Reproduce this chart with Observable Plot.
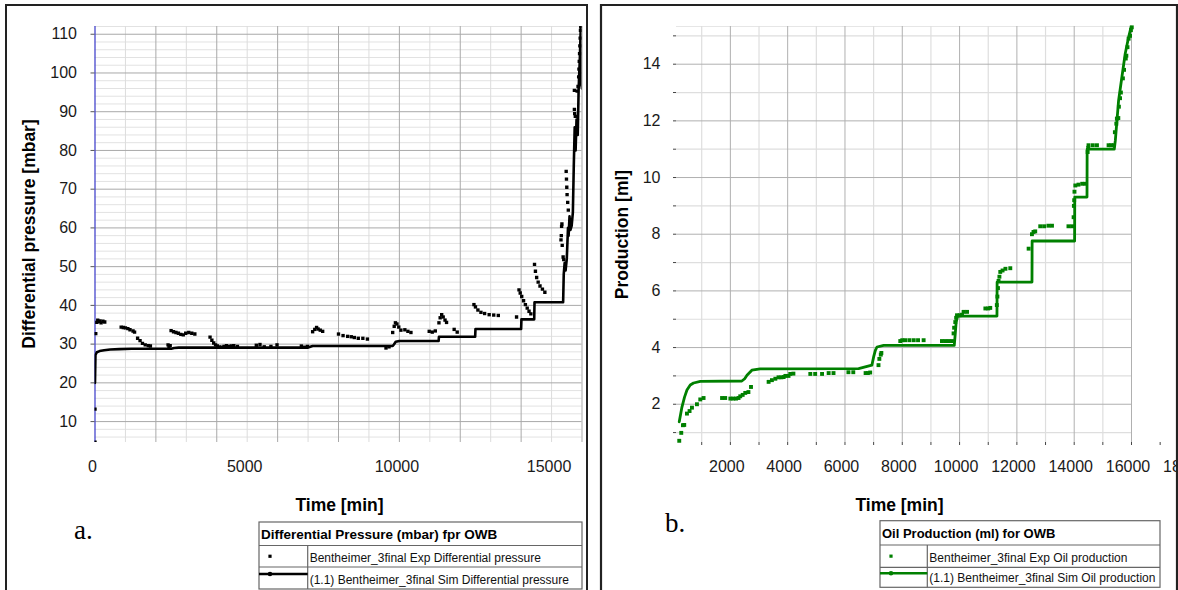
<!DOCTYPE html>
<html><head><meta charset="utf-8">
<script src="https://cdn.jsdelivr.net/npm/d3@7"></script>
<script src="https://cdn.jsdelivr.net/npm/@observablehq/plot@0.6"></script>
<style>
body{margin:0;background:#fff;}
#wrap{position:relative;width:1178px;height:590px;overflow:hidden;background:#fff;font-family:"Liberation Sans",Arial,sans-serif;}
#left,#right{position:absolute;top:0;}
#left{left:0px;width:587px;}
#right{left:601px;width:600px;}
#left svg,#right svg{max-width:none !important;}
#overlay{position:absolute;left:0;top:0;}
</style></head><body>
<div id="wrap"><div id="left"></div><div id="right"></div><svg id="overlay" width="1178" height="590"></svg></div>
<script>
// ---------- DATA ----------
// Panel a: differential pressure (mbar) vs time (min)
const pressureExp = [
  [0,4.7],[0,13.2],[25,32.7],[60,35.6],[90,36.2],[120,35.8],[160,36.0],[200,35.5],[260,35.9],[320,35.7],
  [860,34.4],[930,34.3],[1000,34.2],[1080,34.0],[1150,33.7],[1250,33.4],[1300,33.1],
  [1400,31.5],[1480,30.9],[1560,30.2],[1650,29.8],[1750,29.6],[1820,29.5],
  [2400,29.8],[2430,29.3],[2470,29.6],
  [2500,33.5],[2580,33.2],[2660,33.0],[2740,32.8],[2820,32.5],[2900,32.4],[2980,32.8],[3080,33.0],[3180,32.8],[3280,32.6],
  [3780,31.8],[3840,31.0],[3900,30.3],[3960,29.8],[4020,29.5],
  [4080,29.3],[4160,29.2],[4240,29.4],[4320,29.6],[4400,29.4],[4480,29.5],[4560,29.6],[4680,29.4],
  [5300,29.7],[5420,29.9],[5560,29.3],[5780,29.4],[5980,29.8],
  [6780,29.5],[6880,29.2],[6980,29.4],
  [7150,33.2],[7220,33.8],[7280,34.3],[7330,33.9],[7400,33.6],[7480,33.3],
  [8000,32.6],[8150,32.2],[8300,32.0],[8420,31.9],[8520,31.7],[8650,31.5],[8800,31.5],[8950,31.3],
  [9560,29.0],[9660,29.3],
  [9780,33.0],[9830,34.6],[9870,35.5],[9920,35.2],[9980,34.4],[10050,33.6],
  [10180,33.7],[10280,33.3],[10380,33.0],
  [10980,33.3],[11080,33.1],[11180,33.4],
  [11300,35.5],[11340,36.8],[11390,37.6],[11440,37.0],[11500,36.2],[11550,35.6],
  [11800,33.8],[11900,33.1],
  [12450,40.2],[12500,39.6],[12580,38.8],[12680,38.2],[12800,37.9],[12950,37.6],[13100,37.5],[13250,37.4],
  [13850,37.0],[13930,44.0],[13970,43.2],[14020,42.3],[14080,41.2],[14140,40.2],[14200,39.3],[14260,38.5],[14320,37.8],
  [14440,50.6],[14470,48.8],[14510,47.2],[14560,46.0],[14620,45.0],[14700,44.2],[14780,43.4],
  [15310,56.9],[15320,58.0],[15330,60.4],[15340,61.0],[15350,55.5],[15380,52.5],[15400,51.8],
  [15480,74.6],[15490,72.6],[15500,70.5],[15510,68.6],[15530,66.6],[15550,64.6],
  [15750,90.6],[15760,89.5],[15780,88.8],[15750,95.5],[15840,95.3],
  [15870,96.5],[15890,99],[15900,101],[15910,103],[15920,105],[15930,107],[15940,109],[15950,111],[15960,112]
];
const pressureSim = [
  [0,20],[15,27.2],[60,27.9],[150,28.2],[300,28.4],[500,28.6],[800,28.7],[1200,28.8],[2500,28.8],[2600,29.0],[2750,29.1],
  [7000,29.1],[7150,29.5],[9780,29.5],[9820,29.9],[9880,30.6],[10000,30.8],[11290,30.8],[11300,31.9],[12490,31.9],
  [12500,33.9],[14000,33.9],[14010,36.4],[14430,36.4],[14440,40.8],[15380,40.8],[15400,48],[15430,51],[15460,49],
  [15500,52],[15540,60],[15560,58],[15590,63],[15620,59.5],[15660,60.5],[15700,64],[15730,76],[15760,86],[15790,80],
  [15820,88],[15860,84],[15890,96],[15930,104],[15960,112],[15975,97],[16000,96]
];
// Panel b: oil production (ml) vs time (min)
const oilExp = [
  [216,0.71],[286,0.99],[345,1.26],[390,1.27],[485,1.67],[576,1.76],[660,1.88],[834,2.0],[950,2.17],[1065,2.22],
  [1710,2.22],[1820,2.22],[2000,2.2],[2100,2.2],[2200,2.2],[2285,2.22],[2345,2.28],[2430,2.33],[2520,2.4],[2630,2.43],[2720,2.61],
  [3335,2.79],[3450,2.85],[3570,2.9],[3680,2.95],[3780,2.95],[3860,2.96],[3920,3.0],[4030,3.0],[4090,3.07],[4200,3.08],
  [4790,3.07],[4960,3.07],[5200,3.07],[5430,3.1],[5600,3.1],[6120,3.13],[6290,3.13],[6720,3.1],[6800,3.1],[6880,3.12],
  [7170,3.38],[7200,3.6],[7250,3.75],[7270,3.81],
  [7930,4.23],[8000,4.26],[8105,4.26],[8250,4.26],[8400,4.26],[8550,4.26],[8745,4.26],[9385,4.23],[9500,4.23],[9620,4.23],[9735,4.23],
  [9790,4.5],[9810,4.7],[9850,4.9],[9880,5.05],[9910,5.14],[10000,5.14],[10085,5.16],[10140,5.26],[10260,5.26],
  [10900,5.38],[11000,5.38],[11070,5.4],[11300,5.5],[11320,5.8],[11340,6.1],[11360,6.35],[11390,6.5],[11420,6.67],[11500,6.72],[11600,6.78],[11770,6.8],
  [12410,7.49],[12525,8.0],[12580,8.08],[12640,8.1],[12815,8.28],[12950,8.28],[13100,8.3],[13225,8.3],[13800,8.28],[13925,8.28],
  [13980,8.6],[13990,9.0],[14000,9.2],[14010,9.5],[14040,9.72],[14150,9.75],[14280,9.78],[14390,9.78],
  [14470,10.9],[14490,11.05],[14500,11.14],[14650,11.14],[14795,11.14],[15200,11.14],[15290,11.14],[15375,11.14],
  [15420,11.6],[15470,11.9],[15490,12.08],[15540,12.1],[15560,12.5],[15600,12.8],[15630,13.0],[15700,13.5],[15740,13.8],
  [15800,14.2],[15820,14.3],[15860,14.6],[15900,14.9],[15950,15.0],[15980,15.2],[16010,15.3]
];
const oilSim = [
  [216,1.38],[310,1.9],[400,2.25],[485,2.5],[600,2.68],[715,2.75],[950,2.81],[2400,2.82],[2500,2.9],[2580,3.02],[2750,3.2],
  [3040,3.25],[6475,3.26],[6940,3.38],[7000,3.67],[7060,3.9],[7117,4.02],[7350,4.08],[9815,4.08],[9850,4.5],[9880,4.9],
  [9930,5.11],[11305,5.11],[11310,6.31],[12527,6.31],[12532,7.76],[14015,7.76],[14020,9.31],[14447,9.31],[14452,11.0],
  [15400,11.0],[15435,11.3],[15550,12.72],[15665,13.55],[15780,14.37],[15900,14.96],[15985,15.31]
];
// Tick labels
const leftXTicks = [0, 5000, 10000, 15000];
const leftYTicks = [10, 20, 30, 40, 50, 60, 70, 80, 90, 100, 110];
const rightXTicks = [1000,2000,3000,4000,5000,6000,7000,8000,9000,10000,11000,12000,13000,14000,15000,16000,17000,18000];
const rightXLabels = [2000,4000,6000,8000,10000,12000,14000,16000,18000];
const rightYTicks = [1,2,3,4,5,6,7,8,9,10,11,12,13,14,15];

// Text
const leftYTitle = "Differential pressure [mbar]";
const rightYTitle = "Production [ml]";
const xTitle = "Time [min]";
const leftLegend = ["Differential Pressure (mbar) fpr OWB", "Bentheimer_3final Exp Differential pressure", "(1.1) Bentheimer_3final Sim Differential pressure"];
const rightLegend = ["Oil Production (ml) for OWB", "Bentheimer_3final Exp Oil production", "(1.1) Bentheimer_3final Sim Oil production"];

// ---------- CHARTS ----------
const FONT = '"Liberation Sans", Arial, sans-serif';
const GREEN = "#008000";
const minorG = "#e2e2e2", majorG = "#a9a9a9";

const leftMinorY = d3.range(6, 113, 2).filter(v => v % 10 !== 0);
const leftMajorY = d3.range(10, 111, 10);
const leftOddX = d3.range(1000, 16001, 2000);
const leftEvenX = d3.range(2000, 16001, 2000);

const left = Plot.plot({
  width: 587, height: 480,
  marginLeft: 94.5, marginRight: 5.5, marginTop: 26, marginBottom: 38,
  style: {fontFamily: FONT, fontSize: "16px", color: "#1a1a1a", background: "transparent", maxWidth: "none"},
  x: {domain: [0, 16000]},
  y: {domain: [4.6, 112]},
  marks: [
    Plot.ruleY(leftMinorY, {stroke: minorG}),
    Plot.ruleY([112], {stroke: minorG}),
    Plot.ruleX(leftOddX, {stroke: "#dcdcdc"}),
    Plot.ruleY(leftMajorY, {stroke: majorG}),
    Plot.ruleX(leftEvenX, {stroke: majorG}),
    Plot.ruleX([0], {stroke: "#4646cc", strokeWidth: 1.3}),
    Plot.axisX(leftXTicks, {tickSize: 0, tickPadding: 18, dx: -2.5, label: null, tickFormat: d => String(d)}),
    Plot.axisY(leftYTicks, {tickSize: 4, tickPadding: 14, label: null, tickFormat: d => String(d), stroke: "#555"}),
    Plot.line(pressureSim, {x: d => d[0], y: d => d[1], stroke: "#000", strokeWidth: 2.6, clip: true}),
    Plot.dot(pressureExp, {x: d => d[0], y: d => d[1], symbol: "square", r: 1.9, fill: "#000", clip: true})
  ]
});
document.getElementById("left").appendChild(left);

const rightOddX = d3.range(1000, 16001, 2000);
const rightEvenX = d3.range(2000, 16001, 2000);
const rightOddY = rightYTicks.filter(v => v % 2 === 1);
const rightEvenY = rightYTicks.filter(v => v % 2 === 0);

const right = Plot.plot({
  width: 600, height: 480,
  marginLeft: 75, marginRight: 12.7, marginTop: 26, marginBottom: 38,
  style: {fontFamily: FONT, fontSize: "16px", color: "#1a1a1a", background: "transparent", maxWidth: "none"},
  x: {domain: [120, 18000]},
  y: {domain: [0.65, 15.33]},
  marks: [
    Plot.ruleY(rightOddY, {x1: 120, x2: 16000, stroke: "#dedede", strokeWidth: 1.2}),
    Plot.ruleY([15.33], {x1: 120, x2: 16000, stroke: "#e6e6e6", strokeWidth: 1.2}),
    Plot.ruleX(rightOddX, {stroke: "#dedede", strokeWidth: 1.2}),
    Plot.ruleY(rightEvenY, {x1: 120, x2: 16000, stroke: "#b0b0b0"}),
    Plot.ruleX(rightEvenX, {stroke: "#b0b0b0"}),
    Plot.axisX(rightXTicks, {tickSize: 3, label: null, stroke: "#444", tickFormat: () => ""}),
    Plot.axisX(rightXLabels, {tickSize: 0, tickPadding: 18, dx: -3.5, label: null, tickFormat: d => String(d)}),
    Plot.axisY(rightYTicks, {tickSize: 3, tickPadding: 13, label: null, stroke: "#444", tickFormat: d => d % 2 === 0 ? String(d) : ""}),
    Plot.line(oilSim, {x: d => d[0], y: d => d[1], stroke: GREEN, strokeWidth: 2.8}),
    Plot.dot(oilExp, {x: d => d[0], y: d => d[1], symbol: "square", r: 2.2, fill: GREEN})
  ]
});
document.getElementById("right").appendChild(right);

// ---------- OVERLAY: frames, titles, legends ----------
const ov = d3.select("#overlay");
const frame = "#222";
ov.append("path").attr("d", "M6,592V5H587V592").attr("fill", "none").attr("stroke", frame).attr("stroke-width", 2);
ov.append("path").attr("d", "M601,592V5H1177V592").attr("fill", "none").attr("stroke", frame).attr("stroke-width", 2.2);

function ytitle(x, y, t) {
  ov.append("text").attr("transform", `translate(${x},${y}) rotate(-90)`).attr("text-anchor", "middle")
    .attr("font-family", FONT).attr("font-weight", "bold").attr("font-size", 17.5).attr("fill", "#000").text(t);
}
function xtitle(x, y, t) {
  ov.append("text").attr("x", x).attr("y", y).attr("text-anchor", "middle")
    .attr("font-family", FONT).attr("font-weight", "bold").attr("font-size", 17.5).attr("fill", "#000").text(t);
}
ytitle(34.5, 234, leftYTitle);
ytitle(628, 234.5, rightYTitle);
xtitle(339.5, 511, xTitle);
xtitle(899.5, 511, xTitle);

ov.append("text").attr("x", 74).attr("y", 539).attr("font-family", '"Liberation Serif","Times New Roman",serif').attr("font-size", 27).text("a.");
ov.append("text").attr("x", 665).attr("y", 532).attr("font-family", '"Liberation Serif","Times New Roman",serif').attr("font-size", 27).text("b.");

function legend(x0, x1, top, h1, h2, bottom, div, labels, color, hsize) {
  const g = ov.append("g");
  const ls = "#666";
  g.append("rect").attr("x", x0).attr("y", top).attr("width", x1 - x0).attr("height", bottom - top).attr("fill", "#fff").attr("stroke", ls).attr("stroke-width", 1.2);
  g.append("line").attr("x1", x0).attr("x2", x1).attr("y1", h1).attr("y2", h1).attr("stroke", ls).attr("stroke-width", 1.2);
  g.append("line").attr("x1", x0).attr("x2", x1).attr("y1", h2).attr("y2", h2).attr("stroke", ls).attr("stroke-width", 1.2);
  g.append("line").attr("x1", div).attr("x2", div).attr("y1", h1).attr("y2", bottom).attr("stroke", ls).attr("stroke-width", 1.2);
  g.append("text").attr("x", x0 + 2).attr("y", h1 - 7).attr("font-family", FONT).attr("font-weight", "bold").attr("font-size", hsize).attr("fill", "#000").text(labels[0]);
  g.append("text").attr("x", div + 2).attr("y", h2 - 5.5).attr("font-family", FONT).attr("font-size", 12).attr("fill", "#111").text(labels[1]);
  g.append("text").attr("x", div + 2).attr("y", bottom - 5.5).attr("font-family", FONT).attr("font-size", 12).attr("fill", "#111").text(labels[2]);
  const sx = x0 + 11;
  const r1 = (h1 + h2) / 2, r2 = (h2 + bottom) / 2 - 4;
  g.append("rect").attr("x", sx - 1.6).attr("y", r1 - 1.6).attr("width", 3.2).attr("height", 3.2).attr("fill", color);
  g.append("line").attr("x1", x0).attr("x2", div).attr("y1", r2).attr("y2", r2).attr("stroke", color).attr("stroke-width", 2.6);
  g.append("circle").attr("cx", sx).attr("cy", r2).attr("r", 2.3).attr("fill", color);
}
legend(259, 582, 522, 545.5, 567, 589, 307.7, leftLegend, "#000", 13.5);
legend(880, 1160, 520.7, 545, 567.3, 587.3, 927.3, rightLegend, GREEN, 13);
</script>
</body></html>
